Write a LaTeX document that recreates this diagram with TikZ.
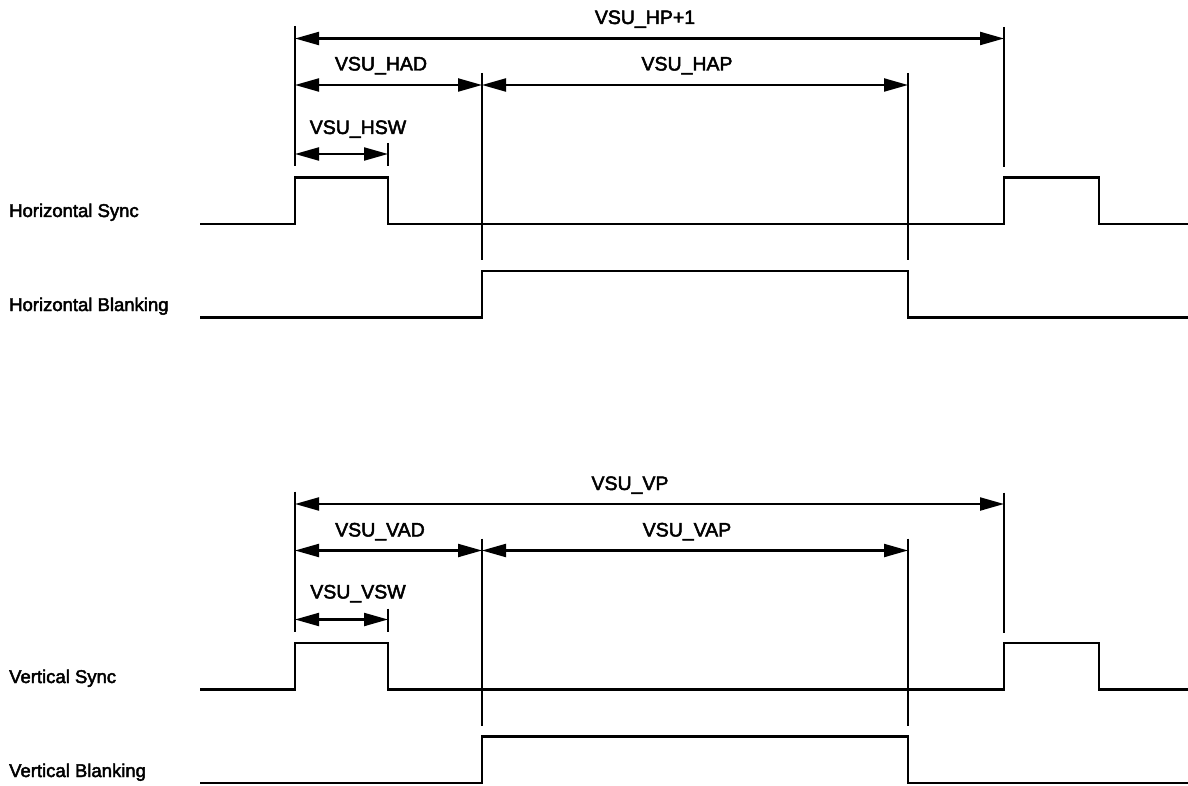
\documentclass[tikz,border=0pt]{standalone}
\usepackage{fontspec}
\setmainfont{Liberation Sans}
\newfontfamily\lblfont{Liberation Sans}[FakeBold=2.5]
\usetikzlibrary{arrows.meta}
\begin{document}
\begin{tikzpicture}[x=1pt,y=-1pt,
  sig/.style={line width=2.2pt, line join=miter},
  mk/.style={line width=2.2pt},
  dim/.style={line width=2.2pt, {Triangle[length=24pt,width=13pt]}-{Triangle[length=24pt,width=13pt]}},
  lbl/.style={font=\lblfont\fontsize{19.5}{22}\selectfont, anchor=base, inner sep=0pt},
  sname/.style={font=\lblfont\fontsize{18.5}{21}\selectfont, anchor=base west, inner sep=0pt}]
\useasboundingbox (0,0) rectangle (1188,786);

\foreach \sh/\p in {0/h, 465.5/v}{
  \begin{scope}[yshift=-\sh pt]
    % marker lines
    \coordinate (\p m1t) at (295,26);  \coordinate (\p m1b) at (295,166);
    \coordinate (\p m2t) at (482,73);  \coordinate (\p m2b) at (482,260);
    \coordinate (\p m3t) at (908,73);  \coordinate (\p m3b) at (908,260);
    \coordinate (\p m4t) at (1004,27); \coordinate (\p m4b) at (1004,167);
    \coordinate (\p m5t) at (388,143); \coordinate (\p m5b) at (388,166);
    \draw[mk] (\p m1t) -- (\p m1b);
    \draw[mk] (\p m2t) -- (\p m2b);
    \draw[mk] (\p m3t) -- (\p m3b);
    \draw[mk] (\p m4t) -- (\p m4b);
    \draw[mk] (\p m5t) -- (\p m5b);
    % dimension arrows
    \coordinate (\p a1) at (295,38.5);  \coordinate (\p a2) at (1004,38.5);
    \coordinate (\p b1) at (295,85);    \coordinate (\p b2) at (482,85);
    \coordinate (\p b3) at (908,85);
    \coordinate (\p c1) at (295,154);   \coordinate (\p c2) at (388,154);
    \draw[dim] (\p a1) -- (\p a2);
    \draw[dim] (\p b1) -- (\p b2);
    \draw[dim] (\p b2) -- (\p b3);
    \draw[dim] (\p c1) -- (\p c2);
    % sync signal
    \coordinate (\p s0) at (200,224);
    \coordinate (\p s9) at (1188,224);
    \draw[sig] (\p s0) -- (295,224) -- (295,177.5) -- (388,177.5) -- (388,224)
      -- (1004,224) -- (1004,177.5) -- (1099,177.5) -- (1099,224) -- (\p s9);
    % blanking signal
    \coordinate (\p k0) at (200,317.5);
    \coordinate (\p k9) at (1188,317.5);
    \draw[sig] (\p k0) -- (482,317.5) -- (482,271) -- (908,271) -- (908,317.5) -- (\p k9);
  \end{scope}
}

% labels, horizontal
\node[lbl] (lhp)  at (645,24)  {VSU\_HP+1};
\node[lbl] (lhad) at (381,70.5) {VSU\_HAD};
\node[lbl] (lhap) at (687,70.5) {VSU\_HAP};
\node[lbl] (lhsw) at (358,134) {VSU\_HSW};
\node[sname] (nhs) at (9,217) {Horizontal Sync};
\node[sname] (nhb) at (9,311) {Horizontal Blanking};

% labels, vertical
\node[lbl] (lvp)  at (630,490)  {VSU\_VP};
\node[lbl] (lvad) at (380,536.5) {VSU\_VAD};
\node[lbl] (lvap) at (687,536.5) {VSU\_VAP};
\node[lbl] (lvsw) at (358,598.5) {VSU\_VSW};
\node[sname] (nvs) at (9,683) {Vertical Sync};
\node[sname] (nvb) at (9,777) {Vertical Blanking};
\end{tikzpicture}
\end{document}
